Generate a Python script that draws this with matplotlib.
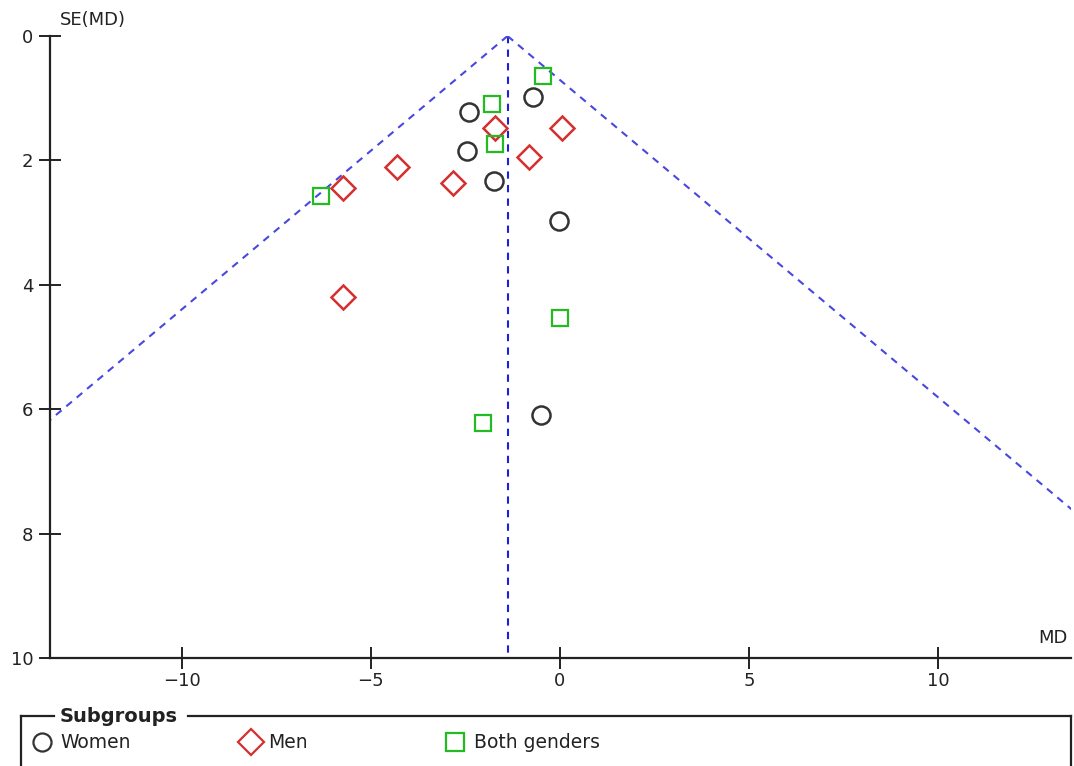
import matplotlib
matplotlib.use("Agg")
import matplotlib.pyplot as plt
from matplotlib.lines import Line2D

plt.rcParams['font.family'] = ['DejaVu Sans']

# ---- data ----
pooled_md = -1.38
z_value = 1.96

women_md = [-0.72, -2.41, -2.44, -1.75, -0.03, -0.50]
women_se = [0.98, 1.22, 1.85, 2.33, 2.98, 6.09]

men_md = [-1.72, 0.05, -0.80, -4.30, -2.81, -5.73, -5.73]
men_se = [1.48, 1.48, 1.95, 2.11, 2.37, 2.45, 4.19]

both_md = [-0.45, -1.80, -1.72, -6.31, 0.00, -2.02]
both_se = [0.64, 1.10, 1.74, 2.58, 4.54, 6.22]

group_labels = ["Women", "Men", "Both genders"]
legend_title = "Subgroups"

x_ticks = [-10, -5, 0, 5, 10]
y_ticks = [0, 2, 4, 6, 8, 10]
x_limits = (-13.48, 13.52)
y_limits = (0, 10)

# ---- figure ----
W, H = 1074, 766
fig = plt.figure(figsize=(W / 100, H / 100), dpi=100)

ax_l, ax_r, ax_t, ax_b = 50, 1071, 36, 658
ax = fig.add_axes([ax_l / W, 1 - ax_b / H, (ax_r - ax_l) / W, (ax_b - ax_t) / H])
ax.set_xlim(*x_limits)
ax.set_ylim(y_limits[1], y_limits[0])

for s in ['top', 'right']:
    ax.spines[s].set_visible(False)
for s in ['left', 'bottom']:
    ax.spines[s].set_color('#222222')
    ax.spines[s].set_linewidth(1.6)

ax.set_xticks(x_ticks)
ax.set_yticks(y_ticks)
ax.set_xticklabels([str(t).replace('-', '\u2212') for t in x_ticks])
ax.tick_params(axis='both', direction='inout', length=16, width=1.4,
               color='#222222', labelsize=13, labelcolor='#222222')
ax.tick_params(axis='x', pad=2)
ax.tick_params(axis='y', pad=4)

# funnel
se_line = [0, y_limits[1]]
dash = (0, (3.5, 3))
ax.plot([pooled_md, pooled_md], se_line, color='#1f1fd8', lw=1.5, linestyle=dash, zorder=2)
ax.plot([pooled_md - z_value * s for s in se_line], se_line, color='#4848e0', lw=1.5,
        linestyle=dash, zorder=2)
ax.plot([pooled_md + z_value * s for s in se_line], se_line, color='#4848e0', lw=1.5,
        linestyle=dash, zorder=2)

# points
ax.plot(women_md, women_se, linestyle='none', marker='o', markersize=13,
        markerfacecolor='none', markeredgecolor='#333333', markeredgewidth=1.8, zorder=3)
ax.plot(men_md, men_se, linestyle='none', marker='D', markersize=12,
        markerfacecolor='none', markeredgecolor='#d33030', markeredgewidth=1.8, zorder=3)
ax.plot(both_md, both_se, linestyle='none', marker='s', markersize=12,
        markerfacecolor='none', markeredgecolor='#22bb22', markeredgewidth=1.6, zorder=3)

# axis titles
fig.text(60 / W, 1 - 20 / H, "SE(MD)", fontsize=13, color='#222222', va='center', ha='left')
fig.text(1068 / W, 1 - 638 / H, "MD", fontsize=13, color='#222222', va='center', ha='right')

# ---- legend panel drawn in pixel coordinates ----
lg = fig.add_axes([0, 0, 1, 1])
lg.set_xlim(0, W)
lg.set_ylim(H, 0)
lg.axis('off')
lg.patch.set_alpha(0)
box_y = 716
lg.plot([21, 54], [box_y, box_y], color='#222222', lw=1.6)
lg.plot([188, 1071], [box_y, box_y], color='#222222', lw=1.6)
lg.plot([21, 21], [box_y, H + 5], color='#222222', lw=1.6)
lg.plot([1071, 1071], [box_y, H + 5], color='#222222', lw=1.6)
lg.text(60, box_y, legend_title, fontsize=14, fontweight='bold', color='#222222',
        va='center', ha='left')

leg_specs = [
    (42, 'o', '#333333', 13, 60),
    (251, 'D', '#d33030', 13, 268),
    (455, 's', '#22bb22', 13, 474),
]
for (mx, mk, col, ms, tx), lab in zip(leg_specs, group_labels):
    lg.plot([mx], [742], linestyle='none', marker=mk, markersize=ms,
            markerfacecolor='none', markeredgecolor=col, markeredgewidth=1.6)
    lg.text(tx, 742, lab, fontsize=13.5, color='#222222', va='center', ha='left')

fig.savefig("out.png", dpi=100, facecolor='white')
